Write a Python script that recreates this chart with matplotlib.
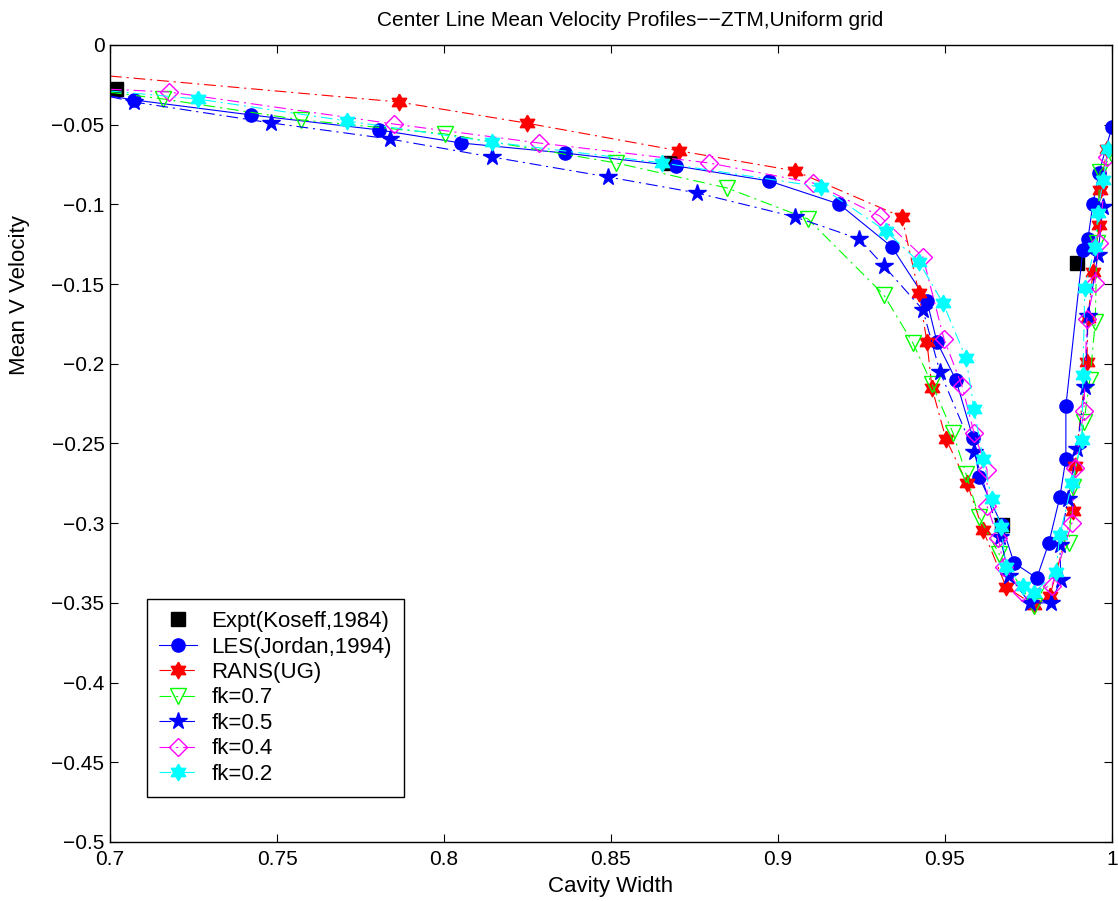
import numpy as np
import matplotlib
matplotlib.use("Agg")
import matplotlib.pyplot as plt

# Center line mean velocity data
expt_x = [0.7018, 0.8677, 0.9670, 0.9895]
expt_y = [-0.0276, -0.0740, -0.3010, -0.1368]

les_x = [0.700, 0.7072, 0.7422, 0.7805, 0.8051, 0.8362, 0.8695, 0.8973, 0.9183, 0.9341,
         0.9446, 0.9476, 0.9533, 0.9584, 0.9602, 0.9670, 0.9707, 0.9775, 0.9811, 0.9844,
         0.9862, 0.9862, 0.9913, 0.9928, 0.9943, 0.9961, 1.000]
les_y = [-0.032, -0.0345, -0.0439, -0.0533, -0.0615, -0.0678, -0.0759, -0.0853, -0.0998, -0.1267,
         -0.1606, -0.1863, -0.2102, -0.2466, -0.2710, -0.3010, -0.3250, -0.3344, -0.3124, -0.2836,
         -0.2597, -0.2265, -0.1286, -0.1217, -0.0997, -0.0803, -0.0514]

rans_x = [0.700, 0.7865, 0.8249, 0.8704, 0.9051, 0.9371, 0.9422, 0.9446, 0.9461, 0.9503,
          0.9566, 0.9614, 0.9683, 0.9766, 0.9814, 0.9883, 0.9889, 0.9925, 0.9928, 0.9943,
          0.9962, 0.9965, 0.9985]
rans_y = [-0.0195, -0.0358, -0.0491, -0.0664, -0.0790, -0.1079, -0.1556, -0.1863, -0.2152, -0.2472,
          -0.2748, -0.3043, -0.3400, -0.3513, -0.3457, -0.2923, -0.2641, -0.1989, -0.1713, -0.1424,
          -0.1129, -0.0910, -0.0652]

fk07_x = [0.700, 0.7159, 0.7572, 0.8003, 0.8515, 0.8847, 0.9090, 0.9317, 0.9404, 0.9461,
          0.9524, 0.9563, 0.9602, 0.9662, 0.9766, 0.9871, 0.9883, 0.9916, 0.9934, 0.9950,
          0.9955, 0.9964, 1.000]
fk07_y = [-0.0297, -0.0339, -0.0470, -0.0558, -0.0740, -0.0897, -0.1092, -0.1568, -0.1870, -0.2127,
          -0.2434, -0.2691, -0.2961, -0.3193, -0.3520, -0.3124, -0.2773, -0.2365, -0.2100, -0.1738,
          -0.1242, -0.0797, -0.0690]

fk05_x = [0.700, 0.7072, 0.7482, 0.7838, 0.8144, 0.8491, 0.8757, 0.9051, 0.9243, 0.9317,
          0.9434, 0.9485, 0.9587, 0.9665, 0.9692, 0.9754, 0.9817, 0.9847, 0.9844, 0.9868,
          0.9895, 0.9919, 0.9928, 0.9958, 0.9973]
fk05_y = [-0.0324, -0.0358, -0.0489, -0.0590, -0.0703, -0.0828, -0.0928, -0.1079, -0.1217, -0.1386,
          -0.1662, -0.2051, -0.2553, -0.3087, -0.3331, -0.3500, -0.3500, -0.3356, -0.3137, -0.2848,
          -0.2534, -0.2146, -0.1700, -0.1317, -0.1016]

fk04_x = [0.700, 0.7177, 0.7850, 0.8285, 0.8793, 0.9105, 0.9305, 0.9434, 0.9497, 0.9551,
          0.9587, 0.9626, 0.9626, 0.9659, 0.9677, 0.9731, 0.9820, 0.9880, 0.9889, 0.9916,
          0.9925, 0.9949, 0.9961, 0.9985]
fk04_y = [-0.0278, -0.0295, -0.0496, -0.0615, -0.0740, -0.0866, -0.1073, -0.1330, -0.1844, -0.2139,
          -0.2434, -0.2666, -0.2892, -0.3093, -0.3275, -0.3432, -0.3394, -0.2999, -0.2654, -0.2296,
          -0.1719, -0.1493, -0.1242, -0.0700]

fk02_x = [0.700, 0.7263, 0.7710, 0.8144, 0.8653, 0.9129, 0.9323, 0.9422, 0.9494, 0.9563,
          0.9587, 0.9614, 0.9640, 0.9668, 0.9683, 0.9734, 0.9766, 0.9832, 0.9844, 0.9880,
          0.9910, 0.9913, 0.9919, 0.9949, 0.9958, 0.9973, 0.9988]
fk02_y = [-0.0289, -0.0339, -0.0477, -0.0609, -0.0740, -0.0891, -0.1167, -0.1361, -0.1619, -0.1964,
          -0.2284, -0.2597, -0.2848, -0.3024, -0.3275, -0.3394, -0.3438, -0.3306, -0.3074, -0.2748,
          -0.2478, -0.2070, -0.1524, -0.1267, -0.1054, -0.0847, -0.0652]

x_ticks = [0.7, 0.75, 0.8, 0.85, 0.9, 0.95, 1.0]
x_labels = ['0.7', '0.75', '0.8', '0.85', '0.9', '0.95', '1']
y_ticks = [0, -0.05, -0.1, -0.15, -0.2, -0.25, -0.3, -0.35, -0.4, -0.45, -0.5]
y_labels = ['0', '\u22120.05', '\u22120.1', '\u22120.15', '\u22120.2', '\u22120.25', '\u22120.3',
            '\u22120.35', '\u22120.4', '\u22120.45', '\u22120.5']

plt.rcParams['font.family'] = ['Liberation Sans', 'DejaVu Sans']
plt.rcParams['lines.scale_dashes'] = False

# six-pointed star (hexagram) like MATLAB's 'h' marker
ang = np.deg2rad(np.arange(12) * 30 + 90)
rad = np.where(np.arange(12) % 2 == 0, 1.0, 1 / np.sqrt(3))
hexagram = list(zip(rad * np.cos(ang), rad * np.sin(ang)))
hexagram.append(hexagram[0])

dashdot = (0, (8.5, 3.5, 1.5, 3.5))
lw = 0.8
skip = slice(1, None)

fig = plt.figure(figsize=(11.18, 9.01), dpi=100)
ax = fig.add_axes([0.0984, 0.0655, 0.8962, 0.8846])

ax.plot(expt_x, expt_y, 's', color='black', ms=9.5, label='Expt(Koseff,1984)')
ax.plot(les_x, les_y, '-', color='blue', lw=lw, marker='o', ms=9.5, markevery=skip,
        label='LES(Jordan,1994)')
ax.plot(rans_x, rans_y, ls=dashdot, color='red', lw=lw, marker=hexagram, ms=12,
        markevery=skip, label='RANS(UG)')
ax.plot(fk07_x, fk07_y, ls=dashdot, color=(0, 1, 0), lw=lw, marker='v', ms=12,
        mfc='none', mew=1.0, markevery=skip, label='fk=0.7')
ax.plot(fk05_x, fk05_y, ls=dashdot, color='blue', lw=lw, marker='*', ms=13,
        markevery=skip, label='fk=0.5')
ax.plot(fk04_x, fk04_y, ls=dashdot, color='magenta', lw=lw, marker='D', ms=9,
        mfc='none', mew=1.0, markevery=skip, label='fk=0.4')
ax.plot(fk02_x, fk02_y, ls=dashdot, color='cyan', lw=lw, marker=hexagram, ms=12,
        markevery=skip, label='fk=0.2')

ax.set_xlim(0.7, 1.0)
ax.set_ylim(-0.5, 0)
ax.set_xticks(x_ticks)
ax.set_xticklabels(x_labels)
ax.set_yticks(y_ticks)
ax.set_yticklabels(y_labels)
ax.tick_params(direction='in', top=True, right=True, labelsize=15, length=6, pad=6)
ax.tick_params(axis='y', pad=4)
for s in ax.spines.values():
    s.set_linewidth(1.0)

ax.set_xlabel('Cavity Width', fontsize=16, labelpad=5)
ax.set_ylabel('Mean V Velocity', fontsize=16)
ax.yaxis.set_label_coords(-0.080, 0.686)
ax.set_title('Center Line Mean Velocity Profiles\u2212\u2212ZTM,Uniform grid', fontsize=15,
             pad=14, x=0.519)

leg = ax.legend(loc='lower left', bbox_to_anchor=(0.037, 0.0565), fontsize=16,
                frameon=True, fancybox=False, edgecolor='black', framealpha=1,
                handlelength=1.7, labelspacing=0.2, borderpad=0.55, handletextpad=0.65,
                borderaxespad=0)
leg.get_frame().set_linewidth(1.0)

fig.savefig('out.png', dpi=100)
